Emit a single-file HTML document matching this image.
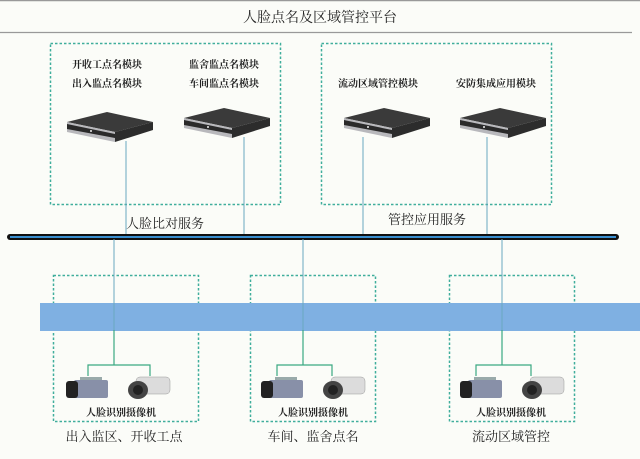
<!DOCTYPE html>
<html><head><meta charset="utf-8"><style>
html,body{margin:0;padding:0;background:#fbfcf8;}
svg{display:block}
text{font-family:"Liberation Serif","Noto Serif CJK SC","Noto Sans CJK SC",serif;fill:#222;}
</style></head><body>
<svg width="640" height="459" viewBox="0 0 640 459" xmlns="http://www.w3.org/2000/svg">
<defs>
<g id="srv">
<polygon points="0,10 40,0 86,10 48,20" fill="#3a3a3a"/>
<polygon points="0,10 48,20 48,30 0,20" fill="#b8b8bc"/>
<polygon points="0,12 48,22 48,26 0,17" fill="#2a2a2a"/>
<polygon points="48,20 86,10 86,18 48,30" fill="#2c2c2c"/>
<circle cx="24" cy="19" r="1" fill="#eee"/>
</g>
<g id="cam">
<rect x="8" y="3" width="34" height="18" rx="2" fill="#8890a8"/>
<rect x="0" y="4" width="12" height="17" rx="3" fill="#222"/>
<rect x="14" y="0" width="22" height="3" fill="#9aa"/>
<g transform="translate(62,0)">
<rect x="8" y="0" width="34" height="17" rx="4" fill="#dcdcdc" stroke="#999" stroke-width="0.5"/>
<ellipse cx="10" cy="13" rx="10" ry="9" fill="#444"/>
<ellipse cx="10" cy="13" rx="5" ry="5" fill="#222"/>
</g>
</g>
</defs>
<line x1="0" y1="0.5" x2="640" y2="0.5" stroke="#999" stroke-width="1.5"/>
<text x="320" y="22" font-size="14" text-anchor="middle">人脸点名及区域管控平台</text>
<line x1="0" y1="32.5" x2="632" y2="32.5" stroke="#999" stroke-width="1.2"/>

<g fill="none" stroke="#3fae9c" stroke-width="1.5" stroke-dasharray="2.5,2">
<rect x="50.5" y="43.5" width="230" height="161"/>
<rect x="321.5" y="43.5" width="230" height="161"/>
<rect x="53.5" y="275.5" width="145" height="146"/>
<rect x="250.5" y="275.5" width="125" height="146"/>
<rect x="449.5" y="275.5" width="125" height="146"/>
</g>
<g font-size="10" text-anchor="middle" font-weight="bold">
<text x="107" y="68">开收工点名模块</text>
<text x="107" y="87">出入监点名模块</text>
<text x="224" y="68">监舍监点名模块</text>
<text x="224" y="87">车间监点名模块</text>
<text x="378" y="87">流动区域管控模块</text>
<text x="496" y="87">安防集成应用模块</text>
</g>
<use href="#srv" x="67" y="112"/>
<use href="#srv" x="184" y="108"/>
<use href="#srv" x="344" y="108"/>
<use href="#srv" x="460" y="108"/>
<g stroke="#6aa8c0" stroke-width="1">
<line x1="126" y1="141" x2="126" y2="236"/>
<line x1="244" y1="137" x2="244" y2="236"/>
<line x1="363" y1="137" x2="363" y2="236"/>
<line x1="487" y1="137" x2="487" y2="236"/>
</g>
<text x="165" y="228" font-size="13" text-anchor="middle">人脸比对服务</text>
<text x="427" y="224" font-size="13" text-anchor="middle">管控应用服务</text>

<line x1="10" y1="237" x2="616" y2="237" stroke="#111" stroke-width="6" stroke-linecap="round"/>
<line x1="10" y1="237" x2="616" y2="237" stroke="#3a8fd0" stroke-width="2"/>

<rect x="40" y="303" width="600" height="28" fill="#7fb0e2"/>

<g stroke="#6aa8c0" stroke-width="1">
<line x1="114" y1="239" x2="114" y2="362"/>
<line x1="303" y1="239" x2="303" y2="362"/>
<line x1="502" y1="239" x2="502" y2="362"/>
</g>
<g stroke="#3aa882" stroke-width="1.2" fill="none">
<polyline points="88,376 88,365 150,365 150,376"/>
<polyline points="277,376 277,365 332,365 332,376"/>
<polyline points="476,376 476,365 531,365 531,376"/>
<line x1="114" y1="330" x2="114" y2="365"/>
<line x1="303" y1="330" x2="303" y2="365"/>
<line x1="502" y1="330" x2="502" y2="365"/>
</g>
<use href="#cam" x="66" y="377"/>
<use href="#cam" x="261" y="377"/>
<use href="#cam" x="460" y="377"/>
<g font-size="10" text-anchor="middle" font-weight="bold">
<text x="121" y="416">人脸识别摄像机</text>
<text x="313" y="416">人脸识别摄像机</text>
<text x="511" y="416">人脸识别摄像机</text>
</g>
<g font-size="13" text-anchor="middle">
<text x="124" y="441">出入监区、开收工点</text>
<text x="313" y="441">车间、监舍点名</text>
<text x="511" y="441">流动区域管控</text>
</g>
</svg>
</body></html>
